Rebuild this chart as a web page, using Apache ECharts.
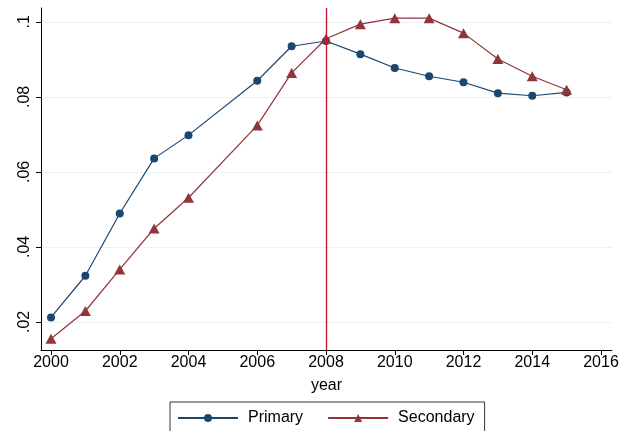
<!DOCTYPE html>
<html>
<head>
<meta charset="utf-8">
<script src="https://cdn.jsdelivr.net/npm/echarts@6/dist/echarts.min.js"></script>
<style>
html,body{margin:0;padding:0;background:#fff;}
#chart{width:631px;height:431px;}
</style>
</head>
<body>
<div id="chart"></div>
<script>
// values
var years = [2000, 2001, 2002, 2003, 2004, 2006, 2007, 2008, 2009, 2010, 2011, 2012, 2013, 2014, 2015];
var primary = [0.0212, 0.0323, 0.0489, 0.0636, 0.0698, 0.0843, 0.0935, 0.0949, 0.0914, 0.0877, 0.0855, 0.0839, 0.0810, 0.0803, 0.0812];
var secondary = [0.0155, 0.0229, 0.0340, 0.0449, 0.0531, 0.0724, 0.0864, 0.0955, 0.0994, 0.1010, 0.1010, 0.0970, 0.0901, 0.0855, 0.0819];
var xTicks = [2000, 2002, 2004, 2006, 2008, 2010, 2012, 2014, 2016];
var yTicks = [0.02, 0.04, 0.06, 0.08, 0.1];
var cutYear = 2008;

function pairs(vals){
  var out = [];
  for (var i = 0; i < years.length; i++) out.push([years[i], vals[i]]);
  return out;
}

var myChart = echarts.init(document.getElementById('chart'));
var font = '"Liberation Sans", Arial, sans-serif';

myChart.setOption({
  animation: false,
  textStyle: {fontFamily: font},
  grid: {left: 41, right: 19, top: 8, bottom: 81},
  legend: {
    left: 170, top: 402,
    itemWidth: 60, itemHeight: 10, itemGap: 24,
    padding: [8, 10, 12, 7],
    borderColor: '#333', borderWidth: 1,
    textStyle: {fontSize: 16, color: '#000', fontFamily: font, padding: [0, 0, 0, 5]},
    data: ['Primary', 'Secondary']
  },
  xAxis: {
    type: 'value', min: 1999.709, max: 2016.32,
    name: 'year', nameLocation: 'middle', nameGap: 28,
    nameTextStyle: {fontSize: 16, color: '#000', fontFamily: font},
    axisLine: {lineStyle: {color: '#000', width: 1}},
    axisTick: {length: 5, lineStyle: {color: '#000'}, customValues: xTicks},
    axisLabel: {
      fontSize: 16, color: '#000', margin: 5, customValues: xTicks,
      formatter: function (v) { return String(Math.round(v)); }
    },
    splitLine: {show: false}
  },
  yAxis: {
    type: 'value', min: 0.0125, max: 0.1037,
    axisLine: {show: true, lineStyle: {color: '#000', width: 1}},
    axisTick: {show: true, length: 5, lineStyle: {color: '#000'}, customValues: yTicks},
    axisLabel: {
      fontSize: 16, color: '#000', rotate: 90, margin: 8,
      customValues: yTicks,
      formatter: function (v) { return String(+v.toFixed(4)).replace(/^0/, ''); }
    },
    splitLine: {show: true, lineStyle: {color: '#eaf2f3', width: 1}}
  },
  series: [
    {
      name: 'Primary', type: 'line', data: pairs(primary),
      symbol: 'circle', symbolSize: 8,
      lineStyle: {color: '#1a476f', width: 1.2},
      itemStyle: {color: '#1a476f'},
      markLine: {
        silent: true, symbol: 'none', label: {show: false},
        lineStyle: {color: '#c8102e', width: 1.3, type: 'solid'},
        data: [{xAxis: cutYear}]
      }
    },
    {
      name: 'Secondary', type: 'line', data: pairs(secondary),
      symbol: 'triangle', symbolSize: [11, 10],
      lineStyle: {color: '#90353b', width: 1.2},
      itemStyle: {color: '#90353b'}
    }
  ]
});
</script>
</body>
</html>
